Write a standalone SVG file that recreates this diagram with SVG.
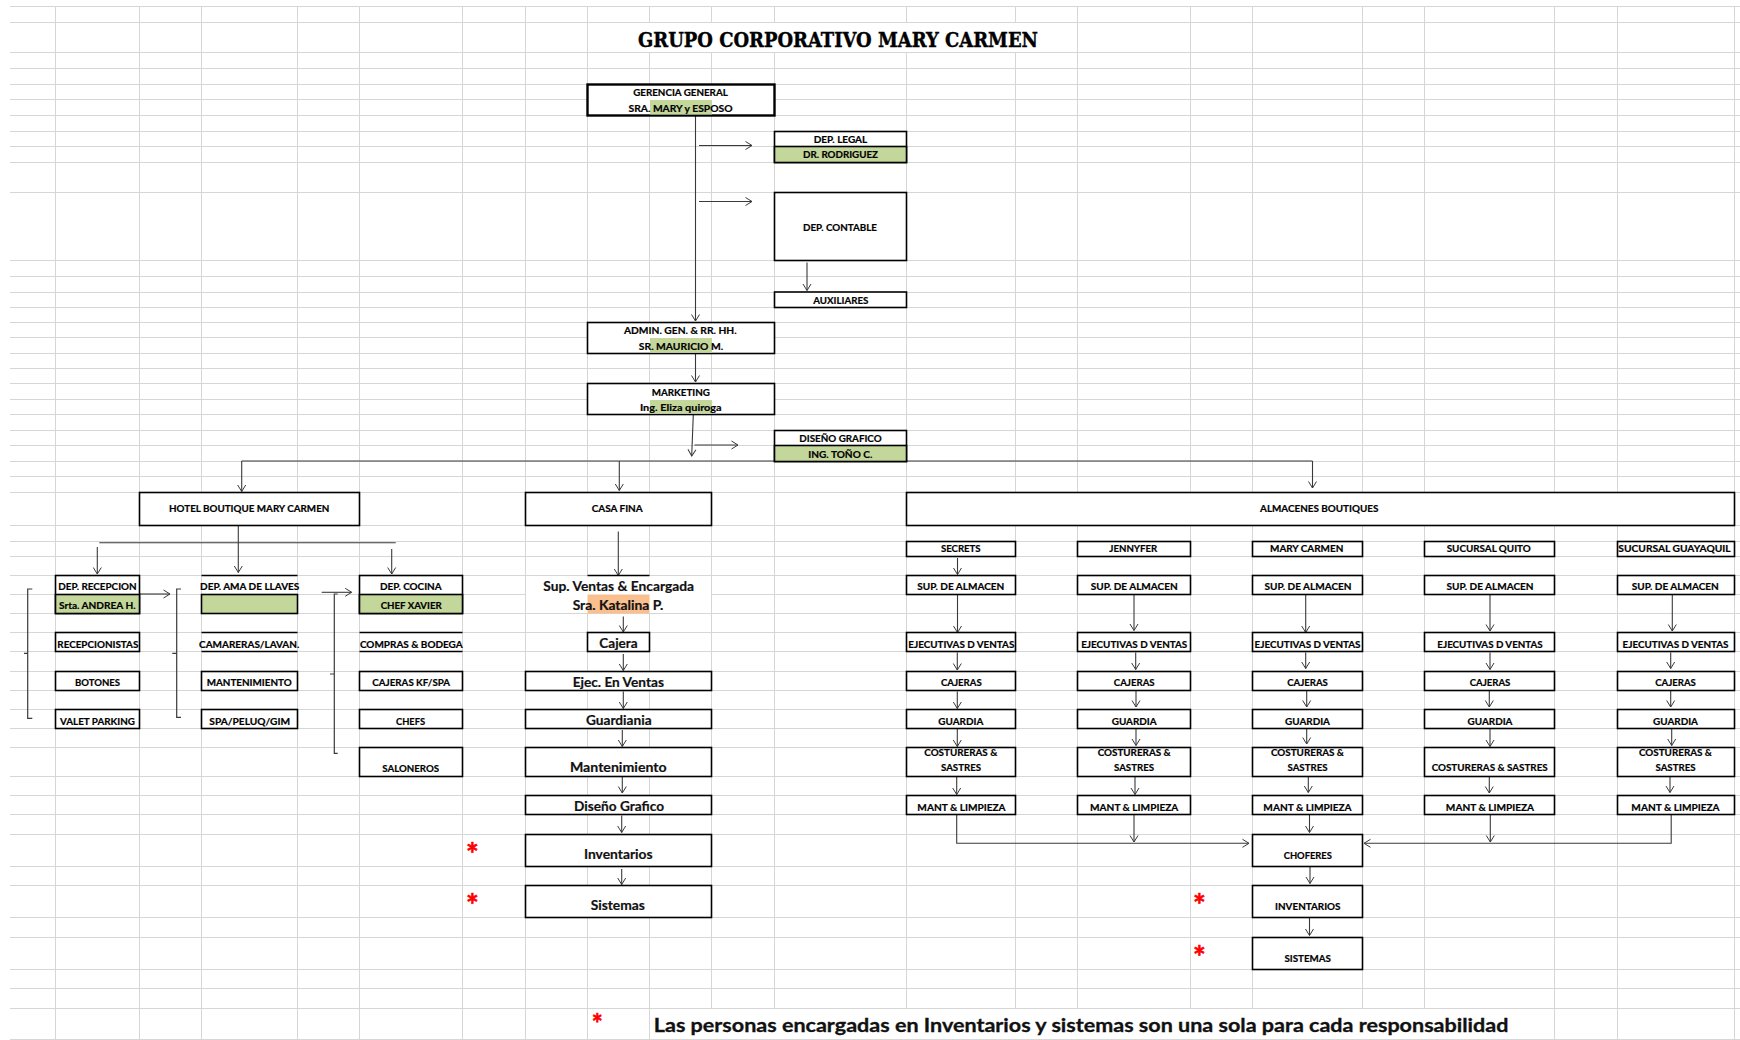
<svg xmlns="http://www.w3.org/2000/svg" width="1740" height="1040" viewBox="0 0 1740 1040">
<style>
  .grid { stroke: #d6d6d6; stroke-width: 1; fill: none; }
  .box { fill: #ffffff; stroke: #000000; stroke-width: 1.6; }
  .thick { stroke-width: 2.4; }
  .edge { fill: none; stroke: #000000; stroke-width: 1.6; }
  .green { fill: #c4d79b; }
  .greenb { fill: #c4d79b; stroke: #000000; stroke-width: 1.6; }
  .orange { fill: #fabf8f; }
  .cover { fill: #ffffff; }
  .t { font-family: Lato, "Liberation Sans", sans-serif; font-weight: bold; font-size: 10px; fill: #000000; stroke: #000000; stroke-width: 0.2; text-anchor: middle; }
  .tb { font-family: Lato, "Liberation Sans", sans-serif; font-weight: bold; font-size: 13.5px; fill: #111111; stroke: #111111; stroke-width: 0.2; text-anchor: middle; }
  .star { font-family: Lato, "Liberation Sans", sans-serif; font-weight: bold; font-size: 30px; fill: #ff0000; stroke: #ff0000; stroke-width: 0.6; text-anchor: middle; }
  .foot { font-family: Lato, "Liberation Sans", sans-serif; font-weight: bold; font-size: 18px; fill: #111111; stroke: #111111; stroke-width: 0.3; text-anchor: middle; }
  .conn { fill: none; stroke: #3a3a3a; stroke-width: 1.1; }
  .brk { fill: none; stroke: #3a3a3a; stroke-width: 1.2; }
</style>
<defs>
  <marker id="arr" viewBox="-8 -5 9 10" refX="0" refY="0" markerWidth="9" markerHeight="10" markerUnits="userSpaceOnUse" orient="auto">
    <path d="M-6.5,-4 L0,0 L-6.5,4" fill="none" stroke="#3a3a3a" stroke-width="1"/>
  </marker>
</defs>

<rect x="0" y="0" width="1740" height="1040" fill="#ffffff"/>

<!-- spreadsheet grid -->
<g id="grid">
  <path class="grid" d="M55.5,6V1040 M139.5,6V1040 M201.5,6V1040 M297.5,6V1040 M359.5,6V1040 M462.5,6V1040 M525.5,6V1040 M587.5,6V1040 M649.5,6V1040 M711.5,6V1040 M774.5,6V1040 M906.5,6V1040 M1015.5,6V1040 M1077.5,6V1040 M1190.5,6V1040 M1252.5,6V1040 M1362.5,6V1040 M1424.5,6V1040 M1554.5,6V1040 M1617.5,6V1040 M1734.5,6V1040"/>
  <path class="grid" d="M10,6.5H1740 M10,22.5H1740 M10,52.5H1740 M10,68.5H1740 M10,84.5H1740 M10,99.5H1740 M10,115.5H1740 M10,131.5H1740 M10,146.5H1740 M10,162.5H1740 M10,192.5H1740 M10,260.5H1740 M10,276.5H1740 M10,292.5H1740 M10,307.5H1740 M10,322.5H1740 M10,337.5H1740 M10,353.5H1740 M10,368.5H1740 M10,383.5H1740 M10,399.5H1740 M10,414.5H1740 M10,430.5H1740 M10,445.5H1740 M10,461.5H1740 M10,476.5H1740 M10,492.5H1740 M10,525.5H1740 M10,541.5H1740 M10,556.5H1740 M10,575.5H1740 M10,594.5H1740 M10,613.5H1740 M10,632.5H1740 M10,651.5H1740 M10,671.5H1740 M10,690.5H1740 M10,709.5H1740 M10,728.5H1740 M10,747.5H1740 M10,776.5H1740 M10,795.5H1740 M10,814.5H1740 M10,834.5H1740 M10,866.5H1740 M10,885.5H1740 M10,917.5H1740 M10,937.5H1740 M10,969.5H1740 M10,988.5H1740 M10,1008.5H1740 M10,1039.5H1740"/>
  <!-- cells hidden by overflowing text -->
  <rect class="cover" x="588" y="23" width="489" height="29"/>
  <rect class="cover" x="526" y="576" width="185" height="37"/>
  <rect class="cover" x="202" y="576" width="95" height="18"/>
  <rect class="cover" x="202" y="633" width="95" height="18"/>
  <rect class="cover" x="360" y="633" width="102" height="18"/>
  <rect class="cover" x="650" y="1009" width="904" height="30"/>
</g>

<text x="838" y="46.5" font-family="'DejaVu Serif', 'Liberation Serif', serif" font-weight="bold" font-size="21" text-anchor="middle" stroke="#000" stroke-width="0.4" textLength="400" lengthAdjust="spacingAndGlyphs">GRUPO CORPORATIVO MARY CARMEN</text>

<!-- connectors -->
<g id="connectors">
  <path class="conn" d="M695.5,115.5V321" marker-end="url(#arr)"/>
  <path class="conn" d="M699,145.5H752" marker-end="url(#arr)"/>
  <path class="conn" d="M699,201.5H752" marker-end="url(#arr)"/>
  <path class="conn" d="M807,262.5V290.5" marker-end="url(#arr)"/>
  <path class="conn" d="M695.5,353.5V382" marker-end="url(#arr)"/>
  <path class="conn" d="M693.3,414.5L691.7,456" marker-end="url(#arr)"/>
  <path class="conn" d="M694.5,445H738" marker-end="url(#arr)"/>
  <path class="conn" d="M241.7,461H1312.5"/>
  <path class="conn" d="M241.7,461V491.5" marker-end="url(#arr)"/>
  <path class="conn" d="M619.3,461V490.5" marker-end="url(#arr)"/>
  <path class="conn" d="M1312.5,461V488" marker-end="url(#arr)"/>

  <!-- hotel -->
  <path class="conn" d="M238.3,526V572.5" marker-end="url(#arr)"/>
  <path class="conn" d="M99.3,542.7H395.7"/>
  <path class="conn" d="M97.3,547V574" marker-end="url(#arr)"/>
  <path class="conn" d="M391.7,549V574" marker-end="url(#arr)"/>
  <path class="conn" d="M139.5,594H170" marker-end="url(#arr)"/>
  <path class="conn" d="M321.7,592.3H351.7" marker-end="url(#arr)"/>
  <path class="brk" d="M32.3,589H27.7V718.3H32.3 M27.7,653.3H24"/>
  <path class="brk" d="M181,589H176.7V717.3H181 M176.7,653.3H172.3"/>
  <path class="brk" d="M337.7,594H334.3V753.3H337.7 M334.3,674H330"/>

  <!-- casa fina -->
  <path class="conn" d="M618.3,531.5V575.5" marker-end="url(#arr)"/>
  <path class="conn" d="M623.3,616.5V632" marker-end="url(#arr)"/>
  <path class="conn" d="M623.3,654V670.5" marker-end="url(#arr)"/>
  <path class="conn" d="M623.3,691.5V708.5" marker-end="url(#arr)"/>
  <path class="conn" d="M622.3,730V746.5" marker-end="url(#arr)"/>
  <path class="conn" d="M622.3,777V793" marker-end="url(#arr)"/>
  <path class="conn" d="M621.7,815.5V832.5" marker-end="url(#arr)"/>
  <path class="conn" d="M621.7,869V884.5" marker-end="url(#arr)"/>

  <!-- almacenes: secrets -->
  <path class="conn" d="M957.5,558V574.5" marker-end="url(#arr)"/>
  <path class="conn" d="M957.5,594.5V632.5" marker-end="url(#arr)"/>
  <path class="conn" d="M957.3,652.5V670" marker-end="url(#arr)"/>
  <path class="conn" d="M957.3,691.5V708.5" marker-end="url(#arr)"/>
  <path class="conn" d="M957.3,729V746.5" marker-end="url(#arr)"/>
  <path class="conn" d="M956.7,776.5V794.5" marker-end="url(#arr)"/>
  <path class="conn" d="M956.7,814.5V843.3H1249" marker-end="url(#arr)"/>
  <!-- jennyfer -->
  <path class="conn" d="M1134,595V630.5" marker-end="url(#arr)"/>
  <path class="conn" d="M1135.7,652.5V669.5" marker-end="url(#arr)"/>
  <path class="conn" d="M1136,691V707" marker-end="url(#arr)"/>
  <path class="conn" d="M1136,729V745.5" marker-end="url(#arr)"/>
  <path class="conn" d="M1135,776.5V794.5" marker-end="url(#arr)"/>
  <path class="conn" d="M1134,814.5V842" marker-end="url(#arr)"/>
  <!-- mary carmen -->
  <path class="conn" d="M1305.7,594.5V632.5" marker-end="url(#arr)"/>
  <path class="conn" d="M1305.7,652.5V668.5" marker-end="url(#arr)"/>
  <path class="conn" d="M1306.7,690.5V707" marker-end="url(#arr)"/>
  <path class="conn" d="M1306.7,729V744" marker-end="url(#arr)"/>
  <path class="conn" d="M1308.3,777V792.5" marker-end="url(#arr)"/>
  <path class="conn" d="M1309.5,814.5V832.5" marker-end="url(#arr)"/>
  <path class="conn" d="M1310,867V883.5" marker-end="url(#arr)"/>
  <path class="conn" d="M1309.5,918V935.5" marker-end="url(#arr)"/>
  <!-- sucursal quito -->
  <path class="conn" d="M1490,594.5V631" marker-end="url(#arr)"/>
  <path class="conn" d="M1490,652.5V669.5" marker-end="url(#arr)"/>
  <path class="conn" d="M1489.3,690.5V707" marker-end="url(#arr)"/>
  <path class="conn" d="M1490,729V746.5" marker-end="url(#arr)"/>
  <path class="conn" d="M1489.3,777V793" marker-end="url(#arr)"/>
  <path class="conn" d="M1490.3,814.5V842" marker-end="url(#arr)"/>
  <!-- sucursal guayaquil -->
  <path class="conn" d="M1672.3,595V631" marker-end="url(#arr)"/>
  <path class="conn" d="M1670.7,652.5V668.5" marker-end="url(#arr)"/>
  <path class="conn" d="M1670.7,690.5V707" marker-end="url(#arr)"/>
  <path class="conn" d="M1671.7,729V745.5" marker-end="url(#arr)"/>
  <path class="conn" d="M1670,777V792.5" marker-end="url(#arr)"/>
  <path class="conn" d="M1671.2,814.5V843.3H1364" marker-end="url(#arr)"/>
</g>

<!-- top management -->
<g id="n-gerencia">
  <rect class="box thick" x="587.5" y="84.5" width="187" height="31"/>
  <rect class="green" x="650" y="100" width="62" height="14.5"/>
  <text class="t" x="680.5" y="96" textLength="94.6" lengthAdjust="spacingAndGlyphs">GERENCIA GENERAL</text>
  <text class="t" x="680.5" y="112" textLength="104" lengthAdjust="spacingAndGlyphs">SRA. MARY  y ESPOSO</text>
</g>
<g id="n-legal">
  <rect class="box" x="774.5" y="131.5" width="132" height="31"/>
  <rect class="greenb" x="774.5" y="146.5" width="132" height="16"/>
  <text class="t" x="840.5" y="143" textLength="53.5" lengthAdjust="spacingAndGlyphs">DEP. LEGAL</text>
  <text class="t" x="840.5" y="158.3" textLength="75" lengthAdjust="spacingAndGlyphs">DR. RODRIGUEZ</text>
</g>
<g id="n-contable">
  <rect class="box" x="774.5" y="192.5" width="132" height="68"/>
  <text class="t" x="840" y="231" textLength="74" lengthAdjust="spacingAndGlyphs">DEP. CONTABLE</text>
</g>
<g id="n-auxiliares">
  <rect class="box" x="774.5" y="292" width="132" height="15.5"/>
  <text class="t" x="840.8" y="304.3" textLength="55" lengthAdjust="spacingAndGlyphs">AUXILIARES</text>
</g>
<g id="n-admin">
  <rect class="box" x="587.5" y="322.5" width="187" height="31"/>
  <rect class="green" x="650" y="338" width="62" height="14.5"/>
  <text class="t" x="680.3" y="334" textLength="112.7" lengthAdjust="spacingAndGlyphs">ADMIN. GEN. &amp; RR. HH.</text>
  <text class="t" x="681" y="350" textLength="84.3" lengthAdjust="spacingAndGlyphs">SR. MAURICIO M.</text>
</g>
<g id="n-marketing">
  <rect class="box" x="587.5" y="383.5" width="187" height="31"/>
  <rect class="green" x="650" y="400" width="62" height="13.5"/>
  <text class="t" x="680.8" y="395.7" textLength="58.3" lengthAdjust="spacingAndGlyphs">MARKETING</text>
  <text class="t" x="680.8" y="411" textLength="81.7" lengthAdjust="spacingAndGlyphs">Ing. Eliza quiroga</text>
</g>
<g id="n-diseno">
  <rect class="box" x="774.5" y="430.5" width="132" height="31"/>
  <rect class="greenb" x="774.5" y="445.5" width="132" height="16"/>
  <text class="t" x="840.5" y="442" textLength="82.3" lengthAdjust="spacingAndGlyphs">DISEÑO GRAFICO</text>
  <text class="t" x="840.3" y="457.7" textLength="64" lengthAdjust="spacingAndGlyphs">ING. TOÑO C.</text>
</g>

<!-- hotel -->
<g id="n-hotel">
  <rect class="box" x="139.5" y="492.5" width="220" height="33"/>
  <text class="t" x="249.2" y="512" textLength="160.3" lengthAdjust="spacingAndGlyphs">HOTEL BOUTIQUE MARY CARMEN</text>
</g>
<g id="n-recepcion">
  <rect class="box" x="55.5" y="575.5" width="84" height="38"/>
  <rect class="greenb" x="55.5" y="594.5" width="84" height="19"/>
  <text class="t" x="97.5" y="590" textLength="78.3" lengthAdjust="spacingAndGlyphs">DEP. RECEPCION</text>
  <text class="t" x="97.3" y="609" textLength="76.7" lengthAdjust="spacingAndGlyphs">Srta. ANDREA H.</text>
</g>
<g id="n-recepcionistas">
  <rect class="box" x="55.5" y="632.5" width="84" height="19"/>
  <text class="t" x="97.8" y="648" textLength="81" lengthAdjust="spacingAndGlyphs">RECEPCIONISTAS</text>
</g>
<g id="n-botones">
  <rect class="box" x="55.5" y="671.5" width="84" height="19"/>
  <text class="t" x="97.5" y="686" textLength="45" lengthAdjust="spacingAndGlyphs">BOTONES</text>
</g>
<g id="n-valet">
  <rect class="box" x="55.5" y="709.5" width="84" height="19"/>
  <text class="t" x="97.5" y="724.6" textLength="75" lengthAdjust="spacingAndGlyphs">VALET PARKING</text>
</g>
<g id="n-ama">
  <path class="edge" d="M201.5,575.5H297.5"/>
  <rect class="greenb" x="201.5" y="594.5" width="96" height="19"/>
  <text class="t" x="249.7" y="590" textLength="99.3" lengthAdjust="spacingAndGlyphs">DEP. AMA DE LLAVES</text>
</g>
<g id="n-camareras">
  <path class="edge" d="M201.5,632.5H297.5 M201.5,651.5H297.5"/>
  <text class="t" x="249.2" y="648" textLength="100.3" lengthAdjust="spacingAndGlyphs">CAMARERAS/LAVAN.</text>
</g>
<g id="n-mant-hotel">
  <rect class="box" x="201.5" y="671.5" width="96" height="19"/>
  <text class="t" x="249.2" y="686" textLength="85" lengthAdjust="spacingAndGlyphs">MANTENIMIENTO</text>
</g>
<g id="n-spa">
  <rect class="box" x="201.5" y="709.5" width="96" height="19"/>
  <text class="t" x="249.7" y="724.6" textLength="80.7" lengthAdjust="spacingAndGlyphs">SPA/PELUQ/GIM</text>
</g>
<g id="n-cocina">
  <rect class="box" x="359.5" y="575.5" width="103" height="38"/>
  <rect class="greenb" x="359.5" y="594.5" width="103" height="19"/>
  <text class="t" x="410.8" y="590" textLength="61.7" lengthAdjust="spacingAndGlyphs">DEP. COCINA</text>
  <text class="t" x="411.2" y="609" textLength="61" lengthAdjust="spacingAndGlyphs">CHEF XAVIER</text>
</g>
<g id="n-compras">
  <path class="edge" d="M359.5,632.5H462.5 M359.5,651.5H462.5"/>
  <text class="t" x="411.3" y="648" textLength="102.7" lengthAdjust="spacingAndGlyphs">COMPRAS &amp; BODEGA</text>
</g>
<g id="n-cajeras-kf">
  <rect class="box" x="359.5" y="671.5" width="103" height="19"/>
  <text class="t" x="411.2" y="686" textLength="77.7" lengthAdjust="spacingAndGlyphs">CAJERAS KF/SPA</text>
</g>
<g id="n-chefs">
  <rect class="box" x="359.5" y="709.5" width="103" height="19"/>
  <text class="t" x="410.5" y="724.6" textLength="29" lengthAdjust="spacingAndGlyphs">CHEFS</text>
</g>
<g id="n-saloneros">
  <rect class="box" x="359.5" y="747.5" width="103" height="29"/>
  <text class="t" x="410.7" y="772" textLength="56.7" lengthAdjust="spacingAndGlyphs">SALONEROS</text>
</g>

<!-- casa fina -->
<g id="n-casafina">
  <rect class="box" x="525.5" y="492.5" width="186" height="33"/>
  <text class="t" x="617.2" y="512" textLength="51" lengthAdjust="spacingAndGlyphs">CASA FINA</text>
</g>
<g id="n-supventas">
  <path class="edge" d="M587.5,575.5H649.5"/>
  <rect class="orange" x="587.5" y="594.5" width="62" height="19"/>
  <text class="tb" x="618.7" y="590.5" textLength="150.7" lengthAdjust="spacingAndGlyphs">Sup. Ventas &amp; Encargada</text>
  <text class="tb" x="618" y="610" textLength="90.7" lengthAdjust="spacingAndGlyphs">Sra. Katalina P.</text>
</g>
<g id="n-cajera">
  <rect class="box" x="587.5" y="632.5" width="62" height="19"/>
  <text class="tb" x="618.5" y="648" textLength="38.3" lengthAdjust="spacingAndGlyphs">Cajera</text>
</g>
<g id="n-ejec">
  <rect class="box" x="525.5" y="671.5" width="186" height="19"/>
  <text class="tb" x="618.3" y="686.5" textLength="91.3" lengthAdjust="spacingAndGlyphs">Ejec. En Ventas</text>
</g>
<g id="n-guardiania">
  <rect class="box" x="525.5" y="709.5" width="186" height="19"/>
  <text class="tb" x="618.8" y="724.8" textLength="65.7" lengthAdjust="spacingAndGlyphs">Guardiania</text>
</g>
<g id="n-mant-cf">
  <rect class="box" x="525.5" y="747.5" width="186" height="29"/>
  <text class="tb" x="618.3" y="771.5" textLength="96.7" lengthAdjust="spacingAndGlyphs">Mantenimiento</text>
</g>
<g id="n-diseno-cf">
  <rect class="box" x="525.5" y="795.5" width="186" height="19"/>
  <text class="tb" x="619" y="810.8" textLength="90" lengthAdjust="spacingAndGlyphs">Diseño Grafico</text>
</g>
<g id="n-inv-cf">
  <rect class="box" x="525.5" y="834.5" width="186" height="32"/>
  <text class="tb" x="618.3" y="859" textLength="68.7" lengthAdjust="spacingAndGlyphs">Inventarios</text>
</g>
<g id="n-sis-cf">
  <rect class="box" x="525.5" y="885.5" width="186" height="32"/>
  <text class="tb" x="617.8" y="909.8" textLength="54.3" lengthAdjust="spacingAndGlyphs">Sistemas</text>
</g>
<text class="star" x="472.5" y="865.3">*</text>
<text class="star" x="472.5" y="916.3">*</text>

<!-- almacenes -->
<g id="n-almacenes">
  <rect class="box" x="906.5" y="492.5" width="828" height="33"/>
  <text class="t" x="1319.2" y="512" textLength="118.3" lengthAdjust="spacingAndGlyphs">ALMACENES BOUTIQUES</text>
</g>

<g id="col-secrets">
  <rect class="box" x="906.5" y="541.5" width="109" height="15"/>
  <text class="t" x="960.8" y="552.3" textLength="39.7" lengthAdjust="spacingAndGlyphs">SECRETS</text>
  <rect class="box" x="906.5" y="575.5" width="109" height="19"/>
  <text class="t" x="960.8" y="590" textLength="87" lengthAdjust="spacingAndGlyphs">SUP. DE ALMACEN</text>
  <rect class="box" x="906.5" y="632.5" width="109" height="19"/>
  <text class="t" x="961.3" y="648" textLength="106" lengthAdjust="spacingAndGlyphs">EJECUTIVAS D VENTAS</text>
  <rect class="box" x="906.5" y="671.5" width="109" height="19"/>
  <text class="t" x="961.3" y="686" textLength="40.7" lengthAdjust="spacingAndGlyphs">CAJERAS</text>
  <rect class="box" x="906.5" y="709.5" width="109" height="19"/>
  <text class="t" x="960.8" y="724.6" textLength="45" lengthAdjust="spacingAndGlyphs">GUARDIA</text>
  <rect class="box" x="906.5" y="747.5" width="109" height="29"/>
  <text class="t" x="960.8" y="756" textLength="73" lengthAdjust="spacingAndGlyphs">COSTURERAS &amp;</text>
  <text class="t" x="961" y="771" textLength="40" lengthAdjust="spacingAndGlyphs">SASTRES</text>
  <rect class="box" x="906.5" y="795.5" width="109" height="19"/>
  <text class="t" x="961.5" y="811" textLength="88.3" lengthAdjust="spacingAndGlyphs">MANT &amp; LIMPIEZA</text>
</g>

<g id="col-jennyfer">
  <rect class="box" x="1077.5" y="541.5" width="113" height="15"/>
  <text class="t" x="1133.3" y="552.3" textLength="48" lengthAdjust="spacingAndGlyphs">JENNYFER</text>
  <rect class="box" x="1077.5" y="575.5" width="113" height="19"/>
  <text class="t" x="1134.2" y="590" textLength="87" lengthAdjust="spacingAndGlyphs">SUP. DE ALMACEN</text>
  <rect class="box" x="1077.5" y="632.5" width="113" height="19"/>
  <text class="t" x="1134.2" y="648" textLength="106" lengthAdjust="spacingAndGlyphs">EJECUTIVAS D VENTAS</text>
  <rect class="box" x="1077.5" y="671.5" width="113" height="19"/>
  <text class="t" x="1134.2" y="686" textLength="40.7" lengthAdjust="spacingAndGlyphs">CAJERAS</text>
  <rect class="box" x="1077.5" y="709.5" width="113" height="19"/>
  <text class="t" x="1134.2" y="724.6" textLength="45" lengthAdjust="spacingAndGlyphs">GUARDIA</text>
  <rect class="box" x="1077.5" y="747.5" width="113" height="29"/>
  <text class="t" x="1134.2" y="756" textLength="73" lengthAdjust="spacingAndGlyphs">COSTURERAS &amp;</text>
  <text class="t" x="1134" y="771" textLength="40" lengthAdjust="spacingAndGlyphs">SASTRES</text>
  <rect class="box" x="1077.5" y="795.5" width="113" height="19"/>
  <text class="t" x="1134.2" y="811" textLength="88.3" lengthAdjust="spacingAndGlyphs">MANT &amp; LIMPIEZA</text>
</g>

<g id="col-marycarmen">
  <rect class="box" x="1252.5" y="541.5" width="110" height="15"/>
  <text class="t" x="1306.7" y="552.3" textLength="73.3" lengthAdjust="spacingAndGlyphs">MARY CARMEN</text>
  <rect class="box" x="1252.5" y="575.5" width="110" height="19"/>
  <text class="t" x="1308" y="590" textLength="87" lengthAdjust="spacingAndGlyphs">SUP. DE ALMACEN</text>
  <rect class="box" x="1252.5" y="632.5" width="110" height="19"/>
  <text class="t" x="1307.5" y="648" textLength="106" lengthAdjust="spacingAndGlyphs">EJECUTIVAS D VENTAS</text>
  <rect class="box" x="1252.5" y="671.5" width="110" height="19"/>
  <text class="t" x="1307.5" y="686" textLength="40.7" lengthAdjust="spacingAndGlyphs">CAJERAS</text>
  <rect class="box" x="1252.5" y="709.5" width="110" height="19"/>
  <text class="t" x="1307.5" y="724.6" textLength="45" lengthAdjust="spacingAndGlyphs">GUARDIA</text>
  <rect class="box" x="1252.5" y="747.5" width="110" height="29"/>
  <text class="t" x="1307.5" y="756" textLength="73" lengthAdjust="spacingAndGlyphs">COSTURERAS &amp;</text>
  <text class="t" x="1307.5" y="771" textLength="40" lengthAdjust="spacingAndGlyphs">SASTRES</text>
  <rect class="box" x="1252.5" y="795.5" width="110" height="19"/>
  <text class="t" x="1307.5" y="811" textLength="88.3" lengthAdjust="spacingAndGlyphs">MANT &amp; LIMPIEZA</text>
</g>

<g id="col-quito">
  <rect class="box" x="1424.5" y="541.5" width="130" height="15"/>
  <text class="t" x="1488.7" y="552.3" textLength="84" lengthAdjust="spacingAndGlyphs">SUCURSAL QUITO</text>
  <rect class="box" x="1424.5" y="575.5" width="130" height="19"/>
  <text class="t" x="1490" y="590" textLength="87" lengthAdjust="spacingAndGlyphs">SUP. DE ALMACEN</text>
  <rect class="box" x="1424.5" y="632.5" width="130" height="19"/>
  <text class="t" x="1490" y="648" textLength="105.4" lengthAdjust="spacingAndGlyphs">EJECUTIVAS D VENTAS</text>
  <rect class="box" x="1424.5" y="671.5" width="130" height="19"/>
  <text class="t" x="1490" y="686" textLength="40.7" lengthAdjust="spacingAndGlyphs">CAJERAS</text>
  <rect class="box" x="1424.5" y="709.5" width="130" height="19"/>
  <text class="t" x="1490" y="724.6" textLength="45" lengthAdjust="spacingAndGlyphs">GUARDIA</text>
  <rect class="box" x="1424.5" y="747.5" width="130" height="29"/>
  <text class="t" x="1489.7" y="771" textLength="116" lengthAdjust="spacingAndGlyphs">COSTURERAS &amp; SASTRES</text>
  <rect class="box" x="1424.5" y="795.5" width="130" height="19"/>
  <text class="t" x="1490" y="811" textLength="88.3" lengthAdjust="spacingAndGlyphs">MANT &amp; LIMPIEZA</text>
</g>

<g id="col-guayaquil">
  <rect class="box" x="1617.5" y="541.5" width="117" height="15"/>
  <text class="t" x="1674.5" y="552.3" textLength="112.3" lengthAdjust="spacingAndGlyphs">SUCURSAL GUAYAQUIL</text>
  <rect class="box" x="1617.5" y="575.5" width="117" height="19"/>
  <text class="t" x="1675.3" y="590" textLength="87" lengthAdjust="spacingAndGlyphs">SUP. DE ALMACEN</text>
  <rect class="box" x="1617.5" y="632.5" width="117" height="19"/>
  <text class="t" x="1675.5" y="648" textLength="106" lengthAdjust="spacingAndGlyphs">EJECUTIVAS D VENTAS</text>
  <rect class="box" x="1617.5" y="671.5" width="117" height="19"/>
  <text class="t" x="1675.5" y="686" textLength="40.7" lengthAdjust="spacingAndGlyphs">CAJERAS</text>
  <rect class="box" x="1617.5" y="709.5" width="117" height="19"/>
  <text class="t" x="1675.5" y="724.6" textLength="45" lengthAdjust="spacingAndGlyphs">GUARDIA</text>
  <rect class="box" x="1617.5" y="747.5" width="117" height="29"/>
  <text class="t" x="1675.5" y="756" textLength="73" lengthAdjust="spacingAndGlyphs">COSTURERAS &amp;</text>
  <text class="t" x="1675.5" y="771" textLength="40" lengthAdjust="spacingAndGlyphs">SASTRES</text>
  <rect class="box" x="1617.5" y="795.5" width="117" height="19"/>
  <text class="t" x="1675.5" y="811" textLength="88.3" lengthAdjust="spacingAndGlyphs">MANT &amp; LIMPIEZA</text>
</g>

<g id="n-choferes">
  <rect class="box" x="1252.5" y="834.5" width="110" height="32"/>
  <text class="t" x="1307.8" y="859" textLength="48.2" lengthAdjust="spacingAndGlyphs">CHOFERES</text>
</g>
<g id="n-inventarios">
  <rect class="box" x="1252.5" y="885.5" width="110" height="32"/>
  <text class="t" x="1307.8" y="910" textLength="65.4" lengthAdjust="spacingAndGlyphs">INVENTARIOS</text>
</g>
<g id="n-sistemas">
  <rect class="box" x="1252.5" y="937.5" width="110" height="32"/>
  <text class="t" x="1307.7" y="961.6" textLength="46.5" lengthAdjust="spacingAndGlyphs">SISTEMAS</text>
</g>
<text class="star" x="1199.5" y="915.5">*</text>
<text class="star" x="1199.5" y="968.3">*</text>

<!-- footnote -->
<text class="star" x="597.2" y="1033" style="font-size:26px">*</text>
<text class="foot" x="1081.1" y="1032" textLength="854.6" lengthAdjust="spacingAndGlyphs">Las personas encargadas en Inventarios y sistemas son una sola para cada responsabilidad</text>
</svg>
